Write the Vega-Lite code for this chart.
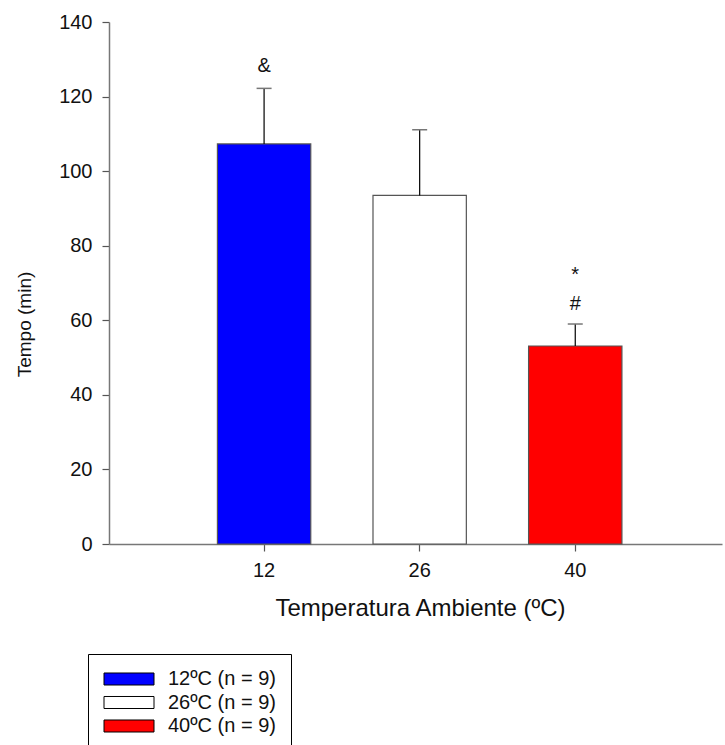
{
  "$schema": "https://vega.github.io/schema/vega-lite/v6.json",
  "autosize": {"type": "none"},
  "padding": {"left": 109, "top": 22, "right": 3, "bottom": 201},
  "width": 613,
  "height": 522,
  "background": "white",
  "config": {
    "view": {"stroke": null},
    "font": "Liberation Sans",
    "axis": {"labelFont": "Liberation Sans", "titleFont": "Liberation Sans", "labelColor": "#111", "titleColor": "#111", "domainColor": "#777", "domainWidth": 1.5, "tickColor": "#555", "tickWidth": 1.2, "tickSize": 7, "grid": false, "titleFontWeight": "normal"}
  },
  "datasets": {
    "barras": [
      {"temp": "12", "grupo": "12ºC (n = 9)", "media": 107.3, "sup": 122.2},
      {"temp": "26", "grupo": "26ºC (n = 9)", "media": 93.5, "sup": 111.1},
      {"temp": "40", "grupo": "40ºC (n = 9)", "media": 53.1, "sup": 59.0}
    ],
    "anotacoes": [
      {"temp": "12", "texto": "&", "valor": 126.6},
      {"temp": "40", "texto": "#", "valor": 62.8},
      {"temp": "40", "texto": "*", "valor": 70.5}
    ]
  },
  "layer": [
    {
      "data": {"name": "barras"},
      "mark": {"type": "bar", "stroke": "#555", "strokeWidth": 1.2, "opacity": 1},
      "encoding": {
        "x": {
          "field": "temp", "type": "ordinal", "sort": ["12", "26", "40"],
          "scale": {"paddingInner": 0.4, "paddingOuter": 0.67, "align": 0.52},
          "axis": {"labelAngle": 0, "labelFontSize": 20, "labelPadding": 9, "title": "Temperatura Ambiente (ºC)", "titleFontSize": 24, "titleX": 311, "titleY": 71, "titleBaseline": "alphabetic", "titleAnchor": null, "titleAlign": "center"}
        },
        "y": {
          "field": "media", "type": "quantitative",
          "scale": {"domain": [0, 140], "nice": false},
          "axis": {"values": [0, 20, 40, 60, 80, 100, 120, 140], "labelFontSize": 20, "labelPadding": 10, "title": "Tempo (min)", "titleFontSize": 19, "titleAngle": -90, "titleX": -79, "titleY": 302, "titleBaseline": "alphabetic", "titleAlign": "center", "titleAnchor": null}
        },
        "color": {
          "field": "grupo", "type": "nominal",
          "scale": {"domain": ["12ºC (n = 9)", "26ºC (n = 9)", "40ºC (n = 9)"], "range": ["#0000FF", "#FFFFFF", "#FF0000"]},
          "legend": {"orient": "none", "legendX": -21, "legendY": 632, "title": null, "strokeColor": "#000", "fillColor": "white", "padding": 15, "symbolType": "M-1,-0.667H4.556V0.667H-1Z", "symbolSize": 324, "symbolStrokeColor": "#000", "symbolStrokeWidth": 1, "symbolOpacity": 1, "labelFontSize": 20, "labelFont": "Liberation Sans", "labelColor": "#111", "labelOffset": 45, "rowPadding": 3.5}
        }
      }
    },
    {
      "data": {"name": "barras"},
      "mark": {"type": "rule", "color": "#000", "strokeWidth": 1.2},
      "encoding": {
        "x": {"field": "temp", "type": "ordinal", "sort": ["12", "26", "40"]},
        "y": {"field": "media", "type": "quantitative"},
        "y2": {"field": "sup"}
      }
    },
    {
      "data": {"name": "barras"},
      "mark": {"type": "tick", "color": "#777", "size": 15, "thickness": 1.5, "orient": "horizontal", "opacity": 1},
      "encoding": {
        "x": {"field": "temp", "type": "ordinal", "sort": ["12", "26", "40"]},
        "y": {"field": "sup", "type": "quantitative"}
      }
    },
    {
      "data": {"name": "anotacoes"},
      "mark": {"type": "text", "fontSize": 20, "baseline": "alphabetic", "align": "center", "color": "#111", "font": "Liberation Sans"},
      "encoding": {
        "x": {"field": "temp", "type": "ordinal", "sort": ["12", "26", "40"]},
        "y": {"field": "valor", "type": "quantitative"},
        "text": {"field": "texto"}
      }
    }
  ]
}
